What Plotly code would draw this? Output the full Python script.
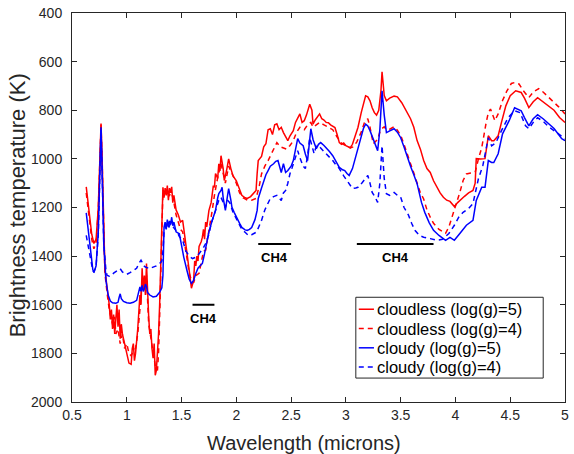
import plotly.graph_objects as go

# Brightness temperature spectra: (wavelength in microns, temperature in K)
cloudless_g5 = [
    (0.63, 1115), (0.66, 1230), (0.68, 1310), (0.70, 1348), (0.72, 1330), (0.74, 1200),
    (0.755, 1000), (0.765, 855), (0.775, 1000), (0.79, 1300), (0.80, 1450), (0.82, 1530),
    (0.84, 1600), (0.85, 1660), (0.86, 1620), (0.87, 1700), (0.88, 1640), (0.89, 1720),
    (0.90, 1660), (0.91, 1600), (0.92, 1690), (0.93, 1620), (0.94, 1740), (0.95, 1680),
    (0.96, 1720), (0.98, 1760), (1.00, 1800), (1.02, 1840), (1.04, 1845), (1.05, 1780),
    (1.06, 1760), (1.07, 1830), (1.08, 1800), (1.10, 1700), (1.12, 1560), (1.13, 1600),
    (1.14, 1450), (1.15, 1540), (1.16, 1480), (1.17, 1560), (1.18, 1430), (1.19, 1560),
    (1.20, 1650), (1.21, 1720), (1.22, 1700), (1.23, 1780), (1.24, 1820), (1.25, 1760),
    (1.26, 1890), (1.27, 1870), (1.28, 1800), (1.29, 1720), (1.30, 1600), (1.31, 1400),
    (1.32, 1200), (1.33, 1117), (1.34, 1160), (1.35, 1120), (1.36, 1150), (1.37, 1110),
    (1.38, 1170), (1.39, 1120), (1.40, 1140), (1.41, 1115), (1.42, 1180), (1.43, 1150),
    (1.45, 1210), (1.47, 1230), (1.49, 1260), (1.51, 1253), (1.53, 1320), (1.55, 1380),
    (1.57, 1460), (1.59, 1532), (1.61, 1500), (1.62, 1420), (1.63, 1440), (1.64, 1400),
    (1.65, 1420), (1.66, 1360), (1.68, 1340), (1.69, 1322), (1.70, 1290), (1.71, 1330),
    (1.72, 1260), (1.73, 1280), (1.75, 1212), (1.77, 1180), (1.79, 1110), (1.80, 1117),
    (1.81, 1060), (1.83, 1080), (1.84, 1020), (1.85, 1050), (1.86, 987), (1.88, 1040),
    (1.89, 1089), (1.91, 1050), (1.93, 1000), (1.95, 1040), (1.97, 1070), (2.00, 1090),
    (2.03, 1130), (2.05, 1150), (2.08, 1160), (2.10, 1163), (2.13, 1155), (2.16, 1140),
    (2.18, 1130), (2.19, 1060), (2.20, 1007), (2.23, 990), (2.25, 950), (2.27, 938),
    (2.29, 880), (2.31, 876), (2.33, 900), (2.35, 860), (2.37, 856), (2.39, 880),
    (2.41, 870), (2.43, 892), (2.45, 910), (2.47, 925), (2.49, 905), (2.52, 884),
    (2.54, 850), (2.56, 830), (2.58, 815), (2.60, 850), (2.62, 843), (2.64, 820),
    (2.66, 790), (2.67, 775), (2.69, 800), (2.70, 857), (2.72, 840), (2.74, 825),
    (2.76, 815), (2.78, 835), (2.80, 840), (2.82, 850), (2.84, 851), (2.86, 860),
    (2.88, 865), (2.90, 871), (2.92, 900), (2.94, 933), (2.96, 940), (2.98, 935),
    (3.00, 946), (3.02, 950), (3.04, 954), (3.06, 940), (3.08, 910), (3.11, 871),
    (3.14, 810), (3.16, 770), (3.18, 741), (3.20, 745), (3.22, 761), (3.24, 790),
    (3.26, 810), (3.28, 820), (3.30, 800), (3.32, 720), (3.33, 642), (3.34, 690),
    (3.35, 740), (3.37, 761), (3.40, 750), (3.44, 742), (3.47, 745), (3.51, 769),
    (3.55, 800), (3.59, 835), (3.62, 870), (3.65, 925), (3.68, 960), (3.71, 1007),
    (3.74, 1040), (3.77, 1056), (3.80, 1090), (3.83, 1117), (3.86, 1140), (3.89, 1158),
    (3.92, 1170), (3.95, 1175), (3.99, 1196), (4.02, 1180), (4.04, 1171), (4.08, 1155),
    (4.12, 1140), (4.16, 1130), (4.18, 1100), (4.19, 999), (4.23, 1000), (4.27, 999),
    (4.30, 905), (4.33, 925), (4.35, 925), (4.39, 905), (4.42, 850), (4.46, 782),
    (4.50, 740), (4.55, 720), (4.60, 727), (4.63, 750), (4.67, 789), (4.71, 765),
    (4.75, 748), (4.80, 765), (4.85, 782), (4.90, 800), (4.95, 830), (5.00, 850),
]

cloudless_g4 = [
    (0.63, 1140), (0.66, 1250), (0.68, 1330), (0.70, 1370), (0.72, 1345), (0.74, 1210),
    (0.755, 1010), (0.765, 860), (0.775, 1010), (0.79, 1320), (0.80, 1470), (0.82, 1550),
    (0.84, 1620), (0.86, 1660), (0.88, 1700), (0.89, 1650), (0.90, 1720), (0.92, 1700),
    (0.94, 1760), (0.96, 1720), (0.98, 1780), (1.00, 1760), (1.02, 1800), (1.04, 1810),
    (1.06, 1790), (1.08, 1780), (1.10, 1720), (1.12, 1620), (1.14, 1500), (1.16, 1520),
    (1.18, 1480), (1.20, 1680), (1.22, 1740), (1.24, 1800), (1.26, 1850), (1.28, 1870),
    (1.29, 1800), (1.30, 1650), (1.32, 1250), (1.33, 1130), (1.35, 1140), (1.37, 1130),
    (1.39, 1150), (1.41, 1140), (1.43, 1180), (1.45, 1230), (1.47, 1260), (1.49, 1290),
    (1.51, 1300), (1.53, 1350), (1.55, 1410), (1.57, 1470), (1.59, 1500), (1.61, 1510),
    (1.63, 1480), (1.66, 1471), (1.68, 1420), (1.70, 1380), (1.72, 1376), (1.75, 1300),
    (1.78, 1212), (1.80, 1150), (1.83, 1076), (1.86, 1020), (1.88, 1060), (1.90, 1100),
    (1.93, 1030), (1.96, 1060), (2.00, 1100), (2.03, 1140), (2.06, 1160), (2.10, 1170),
    (2.14, 1170), (2.18, 1163), (2.21, 1110), (2.23, 1062), (2.26, 1030), (2.29, 1007),
    (2.32, 980), (2.35, 950), (2.37, 933), (2.40, 950), (2.43, 955), (2.46, 960),
    (2.49, 945), (2.52, 925), (2.55, 890), (2.58, 870), (2.62, 880), (2.65, 860),
    (2.68, 850), (2.70, 870), (2.73, 860), (2.76, 850), (2.80, 860), (2.84, 870),
    (2.88, 880), (2.92, 910), (2.96, 935), (3.00, 946), (3.04, 955), (3.07, 950),
    (3.10, 930), (3.14, 890), (3.17, 850), (3.20, 835), (3.22, 870), (3.25, 938),
    (3.27, 930), (3.29, 920), (3.31, 890), (3.33, 875), (3.35, 868), (3.37, 880),
    (3.40, 878), (3.44, 868), (3.47, 882), (3.50, 903), (3.53, 940), (3.56, 985),
    (3.59, 1020), (3.62, 1058), (3.65, 1095), (3.68, 1140), (3.71, 1165), (3.74, 1210),
    (3.77, 1240), (3.80, 1265), (3.85, 1290), (3.91, 1306), (3.94, 1280), (3.97, 1240),
    (4.01, 1180), (4.04, 1138), (4.07, 1089), (4.10, 1062), (4.14, 1058), (4.18, 1055),
    (4.21, 1000), (4.24, 954), (4.28, 852), (4.30, 810), (4.32, 795), (4.34, 820),
    (4.36, 843), (4.39, 815), (4.43, 760), (4.47, 720), (4.51, 690), (4.54, 686),
    (4.58, 692), (4.62, 720), (4.67, 748), (4.71, 725), (4.76, 711), (4.80, 725),
    (4.85, 745), (4.89, 761), (4.94, 785), (5.00, 815),
]

cloudy_g5 = [
    (0.63, 1222), (0.65, 1300), (0.67, 1400), (0.69, 1455), (0.70, 1467), (0.72, 1440),
    (0.74, 1300), (0.755, 1050), (0.765, 870), (0.775, 1050), (0.79, 1350), (0.81, 1500),
    (0.83, 1560), (0.85, 1585), (0.87, 1592), (0.90, 1594), (0.92, 1590), (0.93, 1570),
    (0.94, 1555), (0.95, 1575), (0.97, 1586), (1.00, 1592), (1.03, 1594), (1.06, 1590),
    (1.09, 1582), (1.11, 1545), (1.12, 1527), (1.13, 1545), (1.14, 1520), (1.15, 1545),
    (1.16, 1535), (1.17, 1515), (1.18, 1525), (1.19, 1550), (1.21, 1560), (1.24, 1568),
    (1.27, 1565), (1.30, 1549), (1.32, 1530), (1.33, 1480), (1.34, 1282), (1.35, 1260),
    (1.36, 1290), (1.37, 1250), (1.38, 1280), (1.39, 1255), (1.40, 1270), (1.41, 1240),
    (1.42, 1275), (1.43, 1260), (1.45, 1300), (1.48, 1308), (1.50, 1360), (1.52, 1404),
    (1.55, 1460), (1.57, 1495), (1.59, 1512), (1.61, 1500), (1.63, 1471), (1.65, 1450),
    (1.67, 1440), (1.69, 1430), (1.71, 1390), (1.73, 1348), (1.75, 1300), (1.78, 1253),
    (1.80, 1220), (1.81, 1212), (1.83, 1160), (1.84, 1143), (1.86, 1130), (1.87, 1117),
    (1.88, 1160), (1.90, 1212), (1.92, 1150), (1.93, 1122), (1.95, 1170), (1.96, 1199),
    (1.98, 1220), (2.00, 1240), (2.03, 1265), (2.05, 1282), (2.08, 1292), (2.10, 1294),
    (2.12, 1290), (2.14, 1282), (2.17, 1250), (2.19, 1212), (2.20, 1163), (2.23, 1120),
    (2.25, 1089), (2.27, 1065), (2.29, 1048), (2.31, 1030), (2.34, 1020), (2.36, 1010),
    (2.38, 1007), (2.40, 1040), (2.41, 1056), (2.43, 1020), (2.45, 1056), (2.47, 1048),
    (2.50, 1030), (2.52, 1007), (2.54, 960), (2.56, 917), (2.58, 935), (2.61, 946),
    (2.63, 980), (2.65, 1007), (2.67, 920), (2.68, 876), (2.70, 920), (2.73, 958),
    (2.75, 940), (2.77, 933), (2.80, 945), (2.82, 954), (2.85, 970), (2.88, 987),
    (2.91, 1010), (2.94, 1035), (2.97, 1045), (2.99, 1048), (3.01, 1060), (3.03, 1068),
    (3.06, 1040), (3.08, 1007), (3.11, 950), (3.13, 913), (3.16, 875), (3.18, 857),
    (3.20, 865), (3.22, 884), (3.25, 920), (3.27, 950), (3.29, 966), (3.31, 880),
    (3.33, 720), (3.35, 820), (3.37, 892), (3.40, 885), (3.44, 876), (3.47, 890),
    (3.50, 913), (3.53, 950), (3.56, 995), (3.59, 1030), (3.62, 1065), (3.65, 1102),
    (3.69, 1179), (3.72, 1220), (3.76, 1262), (3.80, 1294), (3.85, 1315), (3.91, 1335),
    (3.95, 1323), (3.99, 1335), (4.04, 1307), (4.10, 1273), (4.16, 1253), (4.19, 1171),
    (4.24, 1117), (4.27, 1117), (4.30, 1007), (4.33, 1015), (4.35, 1015), (4.39, 979),
    (4.43, 897), (4.49, 843), (4.54, 790), (4.60, 802), (4.63, 830), (4.67, 864),
    (4.71, 835), (4.75, 818), (4.80, 835), (4.85, 856), (4.90, 875), (4.97, 917),
    (5.00, 925),
]

cloudy_g4 = [
    (0.63, 1315), (0.65, 1364), (0.67, 1420), (0.69, 1460), (0.70, 1465), (0.72, 1440),
    (0.74, 1310), (0.755, 1060), (0.765, 880), (0.775, 1060), (0.79, 1350), (0.81, 1460),
    (0.82, 1479), (0.84, 1483), (0.86, 1480), (0.88, 1470), (0.90, 1462), (0.92, 1458),
    (0.94, 1452), (0.96, 1465), (0.98, 1471), (1.00, 1475), (1.03, 1468), (1.06, 1460),
    (1.09, 1450), (1.11, 1430), (1.12, 1420), (1.13, 1417), (1.14, 1425), (1.15, 1438),
    (1.17, 1445), (1.19, 1450), (1.21, 1452), (1.24, 1445), (1.27, 1440), (1.30, 1430),
    (1.32, 1420), (1.33, 1380), (1.34, 1300), (1.36, 1270), (1.38, 1285), (1.40, 1265),
    (1.42, 1280), (1.44, 1290), (1.46, 1300), (1.48, 1320), (1.51, 1335), (1.54, 1380),
    (1.57, 1400), (1.60, 1410), (1.63, 1405), (1.66, 1390), (1.70, 1365), (1.72, 1348),
    (1.75, 1310), (1.77, 1267), (1.81, 1212), (1.84, 1170), (1.86, 1158), (1.88, 1180),
    (1.90, 1200), (1.92, 1170), (1.94, 1180), (1.97, 1220), (2.00, 1245), (2.02, 1267),
    (2.05, 1290), (2.08, 1302), (2.11, 1315), (2.14, 1312), (2.18, 1302), (2.20, 1285),
    (2.23, 1253), (2.26, 1210), (2.29, 1179), (2.31, 1163), (2.34, 1155), (2.37, 1150),
    (2.39, 1160), (2.41, 1171), (2.43, 1140), (2.45, 1130), (2.47, 1100), (2.49, 1060),
    (2.51, 1035), (2.54, 990), (2.56, 966), (2.58, 995), (2.61, 1030), (2.63, 1040),
    (2.65, 990), (2.67, 913), (2.69, 950), (2.71, 979), (2.73, 946), (2.76, 950),
    (2.80, 970), (2.84, 987), (2.88, 1007), (2.91, 1025), (2.94, 1040), (2.98, 1070),
    (3.01, 1090), (3.04, 1110), (3.06, 1122), (3.09, 1120), (3.11, 1117), (3.15, 1097),
    (3.20, 1068), (3.22, 1100), (3.24, 1138), (3.27, 1160), (3.29, 1179), (3.31, 1100),
    (3.33, 946), (3.35, 1080), (3.37, 1143), (3.40, 1150), (3.44, 1138), (3.47, 1150),
    (3.50, 1158), (3.53, 1199), (3.57, 1230), (3.60, 1265), (3.63, 1294), (3.67, 1315),
    (3.71, 1322), (3.77, 1328), (3.83, 1335), (3.88, 1331), (3.94, 1307), (3.99, 1273),
    (4.03, 1240), (4.07, 1220), (4.12, 1204), (4.16, 1184), (4.21, 1081), (4.25, 1028),
    (4.30, 913), (4.33, 946), (4.37, 933), (4.42, 884), (4.48, 831), (4.54, 802),
    (4.59, 810), (4.64, 864), (4.67, 876), (4.71, 850), (4.75, 831), (4.80, 845),
    (4.85, 868), (4.92, 890), (4.98, 913), (5.00, 918),
]

series_names = ["cloudless (log(g)=5)", "cloudless (log(g)=4)",
                "cloudy (log(g)=5)", "cloudy (log(g)=4)"]

# Methane absorption bands: start/end wavelength and the temperature level of the marker
ch4_start = [1.6, 2.2, 3.1]
ch4_end = [1.8, 2.5, 3.8]
ch4_level = [1600, 1350, 1350]
ch4_label = "CH4"

x_ticks = [0.5, 1, 1.5, 2, 2.5, 3, 3.5, 4, 4.5, 5]
y_ticks = [400, 600, 800, 1000, 1200, 1400, 1600, 1800, 2000]

x_title = "Wavelength (microns)"
y_title = "Brightness temperature (K)"

FONT = "Liberation Sans, Arial, Helvetica, sans-serif"
AXIS_COLOR = "#262626"
DASH = "5px,4px"
LINE_W = 1.5

styles = [
    dict(color="#ff0000", dash="solid"),
    dict(color="#ff0000", dash=DASH),
    dict(color="#0000ff", dash="solid"),
    dict(color="#0000ff", dash=DASH),
]

fig = go.Figure()
for data, name, st in zip([cloudless_g5, cloudless_g4, cloudy_g5, cloudy_g4], series_names, styles):
    wl, temp = zip(*data)
    fig.add_trace(go.Scatter(
        x=list(wl), y=list(temp), mode="lines", name=name, showlegend=False,
        line=dict(color=st["color"], dash=st["dash"], width=LINE_W),
    ))

for x0, x1, lvl in zip(ch4_start, ch4_end, ch4_level):
    fig.add_shape(type="line", xref="x", yref="y", x0=x0, x1=x1, y0=lvl, y1=lvl,
                  line=dict(color="black", width=2))
    fig.add_annotation(x=(x0 + x1) / 2, y=lvl, xref="x", yref="y", text="<b>%s</b>" % ch4_label,
                       showarrow=False, yanchor="middle", yshift=-14,
                       font=dict(family=FONT, size=13, color="black"))

# Compact boxed key in the lower right corner of the axes (paper coordinates)
KEY_LEFT, KEY_RIGHT = 0.5757, 0.9558
KEY_TOP, KEY_BOTTOM = 0.2692, 0.0615
KEY_ROW_TOP, KEY_ROW_STEP = 0.2385, 0.0496
KEY_SAMPLE = (0.5817, 0.6125)
KEY_TEXT_X = 0.6140

fig.add_shape(type="rect", xref="paper", yref="paper",
              x0=KEY_LEFT, x1=KEY_RIGHT, y0=KEY_BOTTOM, y1=KEY_TOP,
              line=dict(color=AXIS_COLOR, width=1), fillcolor="white", layer="above")
for i, (name, st) in enumerate(zip(series_names, styles)):
    ry = KEY_ROW_TOP - i * KEY_ROW_STEP
    fig.add_shape(type="line", xref="paper", yref="paper",
                  x0=KEY_SAMPLE[0], x1=KEY_SAMPLE[1], y0=ry, y1=ry, layer="above",
                  line=dict(color=st["color"], dash=st["dash"], width=LINE_W))
    fig.add_annotation(x=KEY_TEXT_X, y=ry, xref="paper", yref="paper", text=name,
                       showarrow=False, xanchor="left", yanchor="middle",
                       font=dict(family=FONT, size=16.5, color="black"))

# Axis titles
fig.add_annotation(x=0.471, y=-0.105, xref="paper", yref="paper", text=x_title,
                   showarrow=False, xanchor="center", yanchor="middle",
                   font=dict(family=FONT, size=20, color=AXIS_COLOR))
fig.add_annotation(x=-0.110, y=0.505, xref="paper", yref="paper", text=y_title,
                   showarrow=False, xanchor="center", yanchor="middle", textangle=-90,
                   font=dict(family=FONT, size=22, color=AXIS_COLOR))

axis_common = dict(
    showline=True, linecolor=AXIS_COLOR, linewidth=1, mirror="allticks",
    ticks="inside", ticklen=5, tickcolor=AXIS_COLOR, tickwidth=1,
    showgrid=False, zeroline=False,
    tickfont=dict(family=FONT, size=14, color=AXIS_COLOR),
)

fig.update_xaxes(
    range=[0.5, 5], tickvals=x_ticks, ticktext=[("%g" % v) for v in x_ticks],
    ticklabelstandoff=0,
    **axis_common,
)
fig.update_yaxes(
    range=[2000, 400], tickvals=y_ticks, ticktext=[str(v) for v in y_ticks],
    ticklabelstandoff=6,
    **axis_common,
)

fig.update_layout(
    width=574, height=454,
    margin=dict(l=72, r=5, t=12, b=52),
    paper_bgcolor="white", plot_bgcolor="white",
    font=dict(family=FONT, color=AXIS_COLOR),
    showlegend=False,
)

fig.write_html("out.html")
